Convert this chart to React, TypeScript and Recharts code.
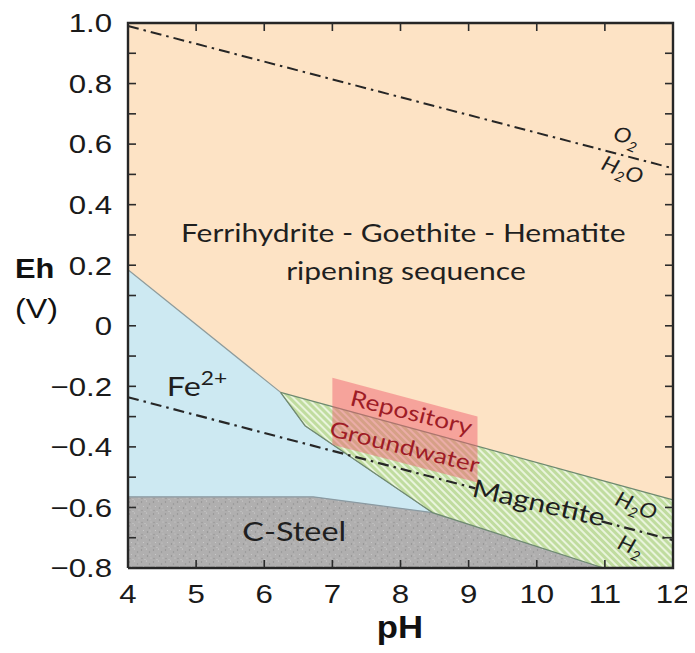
import React from 'react';
import {
  ComposedChart,
  Area,
  Line,
  XAxis,
  YAxis,
  ReferenceDot,
} from 'recharts';

// Axis ticks
const phTicks = [4, 5, 6, 7, 8, 9, 10, 11, 12];
const ehTicks = [
  -0.8, -0.7, -0.6, -0.5, -0.4, -0.3, -0.2, -0.1, 0, 0.1, 0.2, 0.3, 0.4, 0.5,
  0.6, 0.7, 0.8, 0.9, 1.0,
];
const ehLabelled = [-0.8, -0.6, -0.4, -0.2, 0, 0.2, 0.4, 0.6, 0.8, 1.0];

// Oxidised field covers the whole plot underneath the others
const oxidisedPh = [4, 12];
const oxidisedLow = [-0.8, -0.8];
const oxidisedHigh = [1.0, 1.0];

// Fe2+ field (lower / upper Eh at each pH)
const ferrousPh = [4, 6.24, 6.6, 8.47];
const ferrousLow = [-0.8, -0.8, -0.8, -0.8];
const ferrousHigh = [0.185, -0.22, -0.33, -0.617];

// C-steel (Fe metal) field
const steelPh = [4, 6.72, 8.47, 10.98];
const steelLow = [-0.8, -0.8, -0.8, -0.8];
const steelHigh = [-0.565, -0.565, -0.617, -0.8];

// Magnetite field
const magnetitePh = [6.24, 6.6, 8.47, 10.98, 12];
const magnetiteLow = [-0.22, -0.33, -0.617, -0.8, -0.8];
const magnetiteHigh = [-0.22, -0.242, -0.357, -0.512, -0.575];

// Repository groundwater window
const groundwaterPh = [7.0, 9.13];
const groundwaterLow = [-0.393, -0.518];
const groundwaterHigh = [-0.172, -0.3];

// Water stability lines
const oxygenPh = [4, 12];
const oxygenEh = [0.99, 0.52];
const hydrogenPhA = [4, 9.1];
const hydrogenEhA = [-0.236, -0.537];
const hydrogenPhB = [10.95, 12];
const hydrogenEhB = [-0.646, -0.708];

const PH_MIN = 4;
const PH_MAX = 12;
const EH_MIN = -0.8;
const EH_MAX = 1.0;

const band = (ph: number[], lo: number[], hi: number[]) =>
  ph.map((p, i) => ({ ph: p, band: [lo[i], hi[i]] }));
const curve = (ph: number[], eh: number[]) =>
  ph.map((p, i) => ({ ph: p, eh: eh[i] }));

const oxidised = band(oxidisedPh, oxidisedLow, oxidisedHigh);
const ferrous = band(ferrousPh, ferrousLow, ferrousHigh);
const steel = band(steelPh, steelLow, steelHigh);
const magnetite = band(magnetitePh, magnetiteLow, magnetiteHigh);
const groundwater = band(groundwaterPh, groundwaterLow, groundwaterHigh);
const oxygenLine = curve(oxygenPh, oxygenEh);
const hydrogenLineA = curve(hydrogenPhA, hydrogenEhA);
const hydrogenLineB = curve(hydrogenPhB, hydrogenEhB);

// Closed outline around the plot
const frame = [
  { ph: PH_MIN, eh: EH_MIN },
  { ph: PH_MAX, eh: EH_MIN },
  { ph: PH_MAX, eh: EH_MAX },
  { ph: PH_MIN, eh: EH_MAX },
  { ph: PH_MIN, eh: EH_MIN },
];

const SANS = '"Liberation Sans", Arial, sans-serif';
const HUMANIST = 'Lato, "Open Sans", sans-serif';
const STRETCH = 1.2;
const DASH = '11 5 2.5 5';
const INK = '#262626';
const TICK_PX = 8;

const fmtEh = (v: number) =>
  v === 0 ? '0' : v > 0 ? v.toFixed(1) : '\u2212' + Math.abs(v).toFixed(1);

const isLabelled = (v: number) =>
  ehLabelled.some((t) => Math.abs(t - v) < 1e-6);

const YTick = (props: any) => {
  const { x, y, payload } = props;
  if (!isLabelled(payload.value)) return null;
  return (
    <text
      transform={`translate(${x},${y}) scale(${STRETCH},1)`}
      textAnchor="end"
      dy="0.36em"
      fontSize={26}
      fontFamily={SANS}
      fill="#1a1a1a"
    >
      {fmtEh(payload.value)}
    </text>
  );
};

const XTick = (props: any) => {
  const { x, y, payload } = props;
  return (
    <text
      transform={`translate(${x},${y}) scale(${STRETCH},1)`}
      textAnchor="middle"
      dy="0.72em"
      fontSize={26}
      fontFamily={SANS}
      fill="#1a1a1a"
    >
      {payload.value}
    </text>
  );
};

type NoteOpts = {
  angle?: number;
  size?: number;
  color?: string;
  family?: string;
  italic?: boolean;
  anchor?: 'start' | 'middle' | 'end';
  sx?: number;
};

const note = (
  key: string,
  ph: number,
  eh: number,
  body: React.ReactNode,
  opts: NoteOpts = {}
) => {
  const {
    angle = 0,
    size = 25,
    color = '#1f1f1f',
    family = HUMANIST,
    italic = false,
    anchor = 'middle',
    sx = STRETCH,
  } = opts;
  return (
    <ReferenceDot
      key={key}
      x={ph}
      y={eh}
      r={0}
      fill="none"
      stroke="none"
      ifOverflow="visible"
      label={{
        content: (p: any) => {
          const vb = p.viewBox || {};
          return (
            <text
              transform={`translate(${vb.x},${vb.y}) rotate(${angle}) scale(${sx},1)`}
              textAnchor={anchor}
              dy="0.35em"
              fontSize={size}
              fontFamily={family}
              fontStyle={italic ? 'italic' : 'normal'}
              fill={color}
            >
              {body}
            </text>
          );
        },
      }}
    />
  );
};

// Inward tick mark anchored at a point on the frame; (dx, dy) gives direction
const tickAt = (key: string, ph: number, eh: number, dx: number, dy: number) => (
  <ReferenceDot
    key={key}
    x={ph}
    y={eh}
    r={0}
    fill="none"
    stroke="none"
    ifOverflow="visible"
    label={{
      content: (p: any) => {
        const vb = p.viewBox || {};
        return (
          <line
            x1={vb.x}
            y1={vb.y}
            x2={vb.x + dx * TICK_PX}
            y2={vb.y + dy * TICK_PX}
            stroke="#2b2b2b"
            strokeWidth={1.6}
          />
        );
      },
    }}
  />
);

// Fill patterns for the textured fields
const Patterns = () => (
  <svg width={0} height={0} style={{ position: 'absolute' }} aria-hidden="true">
    <defs>
      <pattern
        id="hatch"
        patternUnits="userSpaceOnUse"
        width="5"
        height="5"
        patternTransform="rotate(-45)"
      >
        <rect width="5" height="5" fill="#c0dc9f" />
        <rect width="2" height="5" fill="#e9f4dc" />
      </pattern>
      <pattern id="speckle" patternUnits="userSpaceOnUse" width="12" height="12">
        <rect width="12" height="12" fill="#b0afaf" />
        <circle cx="1.5" cy="2" r="0.7" fill="#8e8e8e" />
        <circle cx="6.5" cy="1" r="0.6" fill="#d2d2d2" />
        <circle cx="9.5" cy="4" r="0.7" fill="#929292" />
        <circle cx="3.5" cy="6.5" r="0.6" fill="#cccccc" />
        <circle cx="7.5" cy="8" r="0.7" fill="#8c8c8c" />
        <circle cx="11" cy="10" r="0.6" fill="#cfcfcf" />
        <circle cx="2" cy="10.5" r="0.7" fill="#959595" />
        <circle cx="5" cy="11.5" r="0.5" fill="#d4d4d4" />
        <circle cx="10" cy="7" r="0.5" fill="#d2d2d2" />
      </pattern>
    </defs>
  </svg>
);

export default function App() {
  return (
    <div>
      <Patterns />
      <ComposedChart
        width={687}
        height={645}
        margin={{ top: 15, right: 22, bottom: 55, left: 60 }}
      >
        <Area
          data={oxidised}
          dataKey="band"
          type="linear"
          fill="#fde3c5"
          fillOpacity={1}
          stroke="none"
          isAnimationActive={false}
        />
        <Area
          data={ferrous}
          dataKey="band"
          type="linear"
          fill="#cde9f2"
          fillOpacity={1}
          stroke="#8f9c9c"
          strokeWidth={1.2}
          isAnimationActive={false}
        />
        <Area
          data={steel}
          dataKey="band"
          type="linear"
          fill="url(#speckle)"
          fillOpacity={1}
          stroke="#8a9aa2"
          strokeWidth={1.2}
          isAnimationActive={false}
        />
        <Area
          data={magnetite}
          dataKey="band"
          type="linear"
          fill="url(#hatch)"
          fillOpacity={1}
          stroke="#6f8a70"
          strokeWidth={1.2}
          isAnimationActive={false}
        />
        <Area
          data={groundwater}
          dataKey="band"
          type="linear"
          fill="#ee5f6c"
          fillOpacity={0.48}
          stroke="none"
          isAnimationActive={false}
        />

        <Line
          data={oxygenLine}
          dataKey="eh"
          type="linear"
          stroke="#262626"
          strokeWidth={2}
          strokeDasharray={DASH}
          dot={false}
          isAnimationActive={false}
        />
        <Line
          data={hydrogenLineA}
          dataKey="eh"
          type="linear"
          stroke="#262626"
          strokeWidth={2.2}
          strokeDasharray={DASH}
          dot={false}
          isAnimationActive={false}
        />
        <Line
          data={hydrogenLineB}
          dataKey="eh"
          type="linear"
          stroke="#262626"
          strokeWidth={2.2}
          strokeDasharray={DASH}
          dot={false}
          isAnimationActive={false}
        />
        <Line
          data={frame}
          dataKey="eh"
          type="linear"
          stroke={INK}
          strokeWidth={2.4}
          strokeDasharray="2000 0"
          dot={false}
          isAnimationActive={false}
        />

        {/* inward ticks on all four sides */}
        {phTicks.map((p) => tickAt(`tb${p}`, p, EH_MIN, 0, -1))}
        {phTicks.map((p) => tickAt(`tt${p}`, p, EH_MAX, 0, 1))}
        {ehTicks.map((e) => tickAt(`tl${e}`, PH_MIN, e, 1, 0))}
        {ehTicks.map((e) => tickAt(`tr${e}`, PH_MAX, e, -1, 0))}

        {note('ferri', 8.04, 0.307, 'Ferrihydrite - Goethite - Hematite', { size: 25 })}
        {note('ripening', 8.08, 0.18, 'ripening sequence', { size: 25 })}
        {note(
          'fe2',
          4.57,
          -0.2,
          <>
            Fe<tspan dy="-11" fontSize={19}>2+</tspan>
          </>,
          { anchor: 'start', size: 27 }
        )}
        {note('steel', 6.44, -0.68, 'C-Steel', { size: 27 })}
        {note('magnetite', 10.03, -0.585, 'Magnetite', { size: 25, angle: 13 })}
        {note('repo', 8.16, -0.287, 'Repository', { size: 22, angle: 14, color: '#9e1c26' })}
        {note('gw', 8.06, -0.4, 'Groundwater', { size: 22, angle: 14, color: '#9e1c26' })}
        {note(
          'o2',
          11.32,
          0.624,
          <>
            O<tspan dy="5" fontSize={14}>2</tspan>
          </>,
          { size: 21, angle: 22, italic: true, sx: 1.1 }
        )}
        {note(
          'h2o_top',
          11.26,
          0.515,
          <>
            H<tspan dy="5" fontSize={14}>2</tspan>
            <tspan dy="-5">O</tspan>
          </>,
          { size: 21, angle: 22, italic: true, sx: 1.1 }
        )}
        {note(
          'h2o_low',
          11.46,
          -0.594,
          <>
            H<tspan dy="5" fontSize={14}>2</tspan>
            <tspan dy="-5">O</tspan>
          </>,
          { size: 21, angle: 22, italic: true, sx: 1.1 }
        )}
        {note(
          'h2',
          11.38,
          -0.727,
          <>
            H<tspan dy="5" fontSize={14}>2</tspan>
          </>,
          { size: 21, angle: 22, italic: true, sx: 1.1 }
        )}

        <XAxis
          dataKey="ph"
          type="number"
          domain={[PH_MIN, PH_MAX]}
          ticks={phTicks}
          height={30}
          axisLine={false}
          tickLine={false}
          tickMargin={10}
          tick={<XTick />}
          interval={0}
          label={{
            content: () => (
              <text
                transform={`translate(392,630) scale(1.12,1)`}
                textAnchor="middle"
                fontSize={31}
                fontWeight="bold"
                fontFamily={SANS}
                fill="#111"
              >
                pH
              </text>
            ),
          }}
        />
        <YAxis
          type="number"
          domain={[EH_MIN, EH_MAX]}
          ticks={ehTicks}
          width={60}
          axisLine={false}
          tickLine={false}
          tickMargin={10}
          tick={<YTick />}
          interval={0}
          label={{
            content: () => (
              <g>
                <text
                  transform={`translate(7,270) scale(1.1,1)`}
                  textAnchor="start"
                  fontSize={28}
                  fontWeight="bold"
                  fontFamily={SANS}
                  fill="#111"
                >
                  Eh
                </text>
                <text
                  transform={`translate(7,310) scale(1.15,1)`}
                  textAnchor="start"
                  fontSize={28}
                  fontFamily={SANS}
                  fill="#111"
                >
                  (V)
                </text>
              </g>
            ),
          }}
        />
      </ComposedChart>
    </div>
  );
}
